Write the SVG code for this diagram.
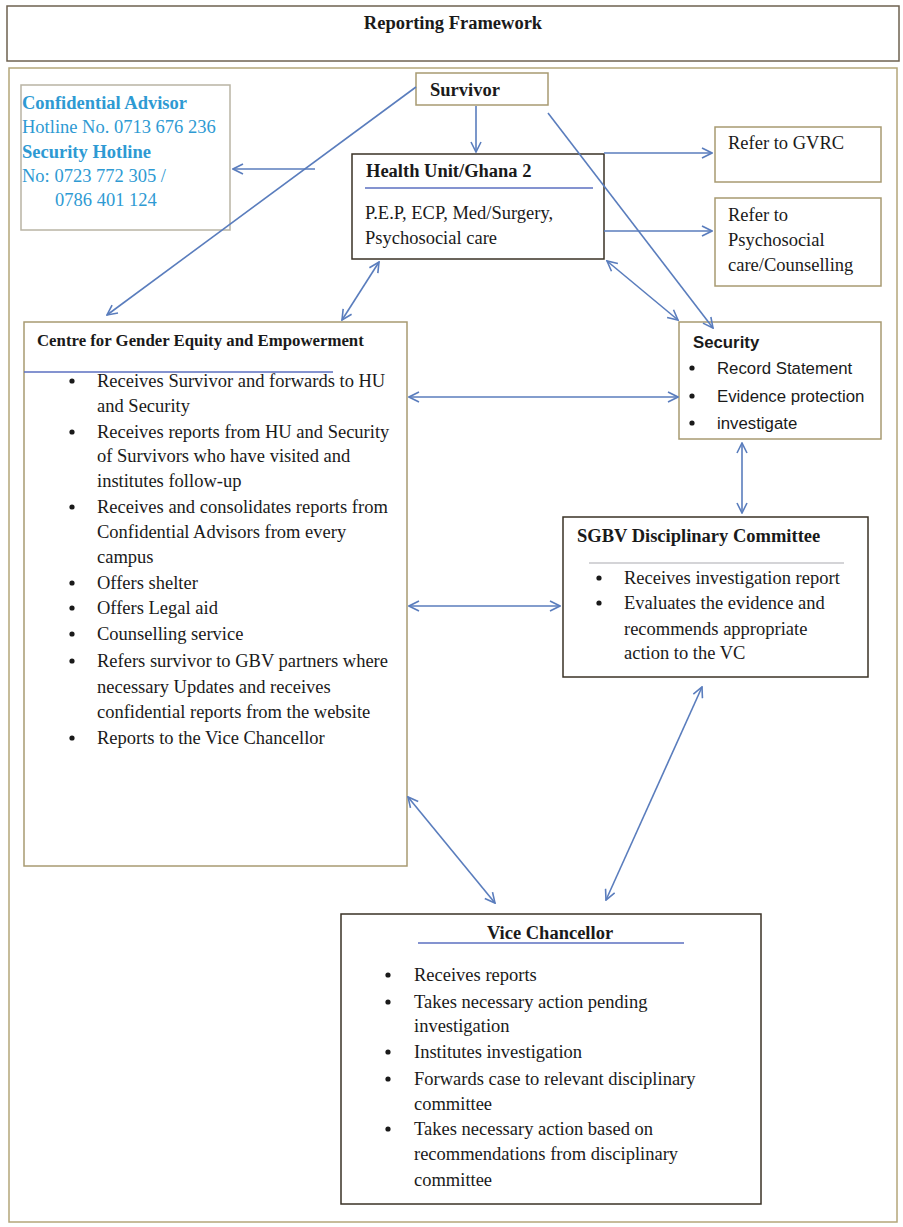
<svg xmlns="http://www.w3.org/2000/svg" width="903" height="1227" viewBox="0 0 903 1227">
<style>
  .t{font-family:"Liberation Serif","Times New Roman",serif;font-size:18.5px;fill:#1a1a1a}
  .b{font-weight:bold}
  .s{font-family:"Liberation Sans",Arial,sans-serif;font-size:16.8px;fill:#1a1a1a}
  .c{font-family:"Liberation Serif","Times New Roman",serif;font-size:18.5px;fill:#2e9ad3}
  .tan{fill:#fff;stroke:#a89a72;stroke-width:1.5}
  .dk{fill:#fff;stroke:#3a3226;stroke-width:1.5}
  .conn line{stroke:#5a7dbd;stroke-width:1.6;fill:none}
  .ul{stroke:#5b6fc0;stroke-width:1.4}
</style>
<defs>
  <marker id="ah" viewBox="0 0 12 12" refX="11" refY="6" markerWidth="12" markerHeight="12" markerUnits="userSpaceOnUse" orient="auto-start-reverse">
    <path d="M1,1 L11,6 L1,11" fill="none" stroke="#5a7dbd" stroke-width="1.6"/>
  </marker>
</defs>
<rect width="903" height="1227" fill="#fff"/>

<g id="title">
  <rect x="7" y="6" width="892" height="55" fill="#fff" stroke="#6e6250" stroke-width="1.5"/>
  <text class="t b" x="453" y="29" text-anchor="middle">Reporting Framework</text>
</g>
<g id="frame">
  <rect x="9" y="68" width="888" height="1154" fill="none" stroke="#b4a67a" stroke-width="1.5"/>
</g>

<g id="survivor">
  <rect class="tan" x="416" y="73" width="132" height="32"/>
  <text class="t b" x="430" y="96">Survivor</text>
</g>

<g id="confidential-advisor">
  <rect x="21" y="85" width="209" height="145" fill="#fff" stroke="#b9b4a4" stroke-width="1.5"/>
  <text class="c b" x="22" y="109">Confidential Advisor</text>
  <text class="c" x="22" y="133">Hotline No. 0713 676 236</text>
  <text class="c b" x="22" y="158">Security Hotline</text>
  <text class="c" x="22" y="182">No: 0723 772 305 /</text>
  <text class="c" x="55" y="206">0786 401 124</text>
</g>

<g id="health-unit">
  <rect class="dk" x="352" y="154" width="252" height="105"/>
  <text class="t b" x="366" y="177">Health Unit/Ghana 2</text>
  <line class="ul" x1="365" y1="188" x2="593" y2="188"/>
  <text class="t" x="365" y="219">P.E.P, ECP, Med/Surgery,</text>
  <text class="t" x="365" y="244">Psychosocial care</text>
</g>

<g id="refer-gvrc">
  <rect class="tan" x="715" y="127" width="166" height="55"/>
  <text class="t" x="728" y="149">Refer to GVRC</text>
</g>

<g id="refer-psychosocial">
  <rect class="tan" x="715" y="198" width="166" height="88"/>
  <text class="t" x="728" y="221">Refer to</text>
  <text class="t" x="728" y="246">Psychosocial</text>
  <text class="t" x="728" y="271">care/Counselling</text>
</g>

<g id="security">
  <rect class="tan" x="679" y="322" width="202" height="117"/>
  <text class="s b" x="693" y="348">Security</text>
  <circle cx="692" cy="368" r="2.6" fill="#1a1a1a"/>
  <text class="s" x="717" y="374">Record Statement</text>
  <circle cx="692" cy="396" r="2.6" fill="#1a1a1a"/>
  <text class="s" x="717" y="402">Evidence protection</text>
  <circle cx="692" cy="423" r="2.6" fill="#1a1a1a"/>
  <text class="s" x="717" y="429">investigate</text>
</g>

<g id="cge">
  <rect class="tan" x="24" y="322" width="383" height="544"/>
  <text class="t b" x="37" y="346" style="font-size:16.8px">Centre for Gender Equity and Empowerment</text>
  <line class="ul" x1="24" y1="372" x2="333" y2="372"/>
  <g fill="#1a1a1a">
    <circle cx="72" cy="381" r="2.6"/>
    <circle cx="72" cy="432" r="2.6"/>
    <circle cx="72" cy="507" r="2.6"/>
    <circle cx="72" cy="583" r="2.6"/>
    <circle cx="72" cy="608" r="2.6"/>
    <circle cx="72" cy="634" r="2.6"/>
    <circle cx="72" cy="661" r="2.6"/>
    <circle cx="72" cy="738" r="2.6"/>
  </g>
  <text class="t" x="97" y="387">Receives Survivor and forwards to HU</text>
  <text class="t" x="97" y="412">and Security</text>
  <text class="t" x="97" y="438">Receives reports from HU and Security</text>
  <text class="t" x="97" y="462">of Survivors who have visited and</text>
  <text class="t" x="97" y="487">institutes follow-up</text>
  <text class="t" x="97" y="513">Receives and consolidates reports from</text>
  <text class="t" x="97" y="538">Confidential Advisors from every</text>
  <text class="t" x="97" y="563">campus</text>
  <text class="t" x="97" y="589">Offers shelter</text>
  <text class="t" x="97" y="614">Offers Legal aid</text>
  <text class="t" x="97" y="640">Counselling service</text>
  <text class="t" x="97" y="667">Refers survivor to GBV partners where</text>
  <text class="t" x="97" y="693">necessary Updates and receives</text>
  <text class="t" x="97" y="718">confidential reports from the website</text>
  <text class="t" x="97" y="744">Reports to the Vice Chancellor</text>
</g>

<g id="sgbv">
  <rect class="dk" x="563" y="517" width="305" height="160"/>
  <text class="t b" x="577" y="542">SGBV Disciplinary Committee</text>
  <line x1="589" y1="563" x2="844" y2="563" stroke="#a9aab0" stroke-width="1.2"/>
  <circle cx="599" cy="578" r="2.6" fill="#1a1a1a"/>
  <text class="t" x="624" y="584">Receives investigation report</text>
  <circle cx="599" cy="603" r="2.6" fill="#1a1a1a"/>
  <text class="t" x="624" y="609">Evaluates the evidence and</text>
  <text class="t" x="624" y="635">recommends appropriate</text>
  <text class="t" x="624" y="659">action to the VC</text>
</g>

<g id="vice-chancellor">
  <rect class="dk" x="341" y="914" width="420" height="290"/>
  <text class="t b" x="550" y="939" text-anchor="middle">Vice Chancellor</text>
  <line class="ul" x1="418" y1="943" x2="684" y2="943"/>
  <g fill="#1a1a1a">
    <circle cx="388" cy="975" r="2.6"/>
    <circle cx="388" cy="1002" r="2.6"/>
    <circle cx="388" cy="1052" r="2.6"/>
    <circle cx="388" cy="1079" r="2.6"/>
    <circle cx="388" cy="1129" r="2.6"/>
  </g>
  <text class="t" x="414" y="981">Receives reports</text>
  <text class="t" x="414" y="1008">Takes necessary action pending</text>
  <text class="t" x="414" y="1032">investigation</text>
  <text class="t" x="414" y="1058">Institutes investigation</text>
  <text class="t" x="414" y="1085">Forwards case to relevant disciplinary</text>
  <text class="t" x="414" y="1110">committee</text>
  <text class="t" x="414" y="1135">Takes necessary action based on</text>
  <text class="t" x="414" y="1160">recommendations from disciplinary</text>
  <text class="t" x="414" y="1186">committee</text>
</g>

<g id="connectors" class="conn">
  <line x1="476" y1="106" x2="476" y2="152" marker-end="url(#ah)"/>
  <line x1="416" y1="87" x2="107" y2="315" marker-end="url(#ah)"/>
  <line x1="315" y1="169" x2="233" y2="169" marker-end="url(#ah)"/>
  <line x1="342" y1="320" x2="379" y2="262" marker-start="url(#ah)" marker-end="url(#ah)"/>
  <line x1="604" y1="153" x2="712" y2="153" marker-end="url(#ah)"/>
  <line x1="604" y1="231" x2="712" y2="231" marker-end="url(#ah)"/>
  <line x1="548" y1="113" x2="713" y2="328" marker-end="url(#ah)"/>
  <line x1="607" y1="261" x2="678" y2="320" marker-start="url(#ah)" marker-end="url(#ah)"/>
  <line x1="409" y1="397" x2="678" y2="397" marker-start="url(#ah)" marker-end="url(#ah)"/>
  <line x1="742" y1="443" x2="742" y2="513" marker-start="url(#ah)" marker-end="url(#ah)"/>
  <line x1="409" y1="606" x2="560" y2="606" marker-start="url(#ah)" marker-end="url(#ah)"/>
  <line x1="408" y1="797" x2="495" y2="903" marker-start="url(#ah)" marker-end="url(#ah)"/>
  <line x1="702" y1="687" x2="606" y2="900" marker-start="url(#ah)" marker-end="url(#ah)"/>
</g>
</svg>
